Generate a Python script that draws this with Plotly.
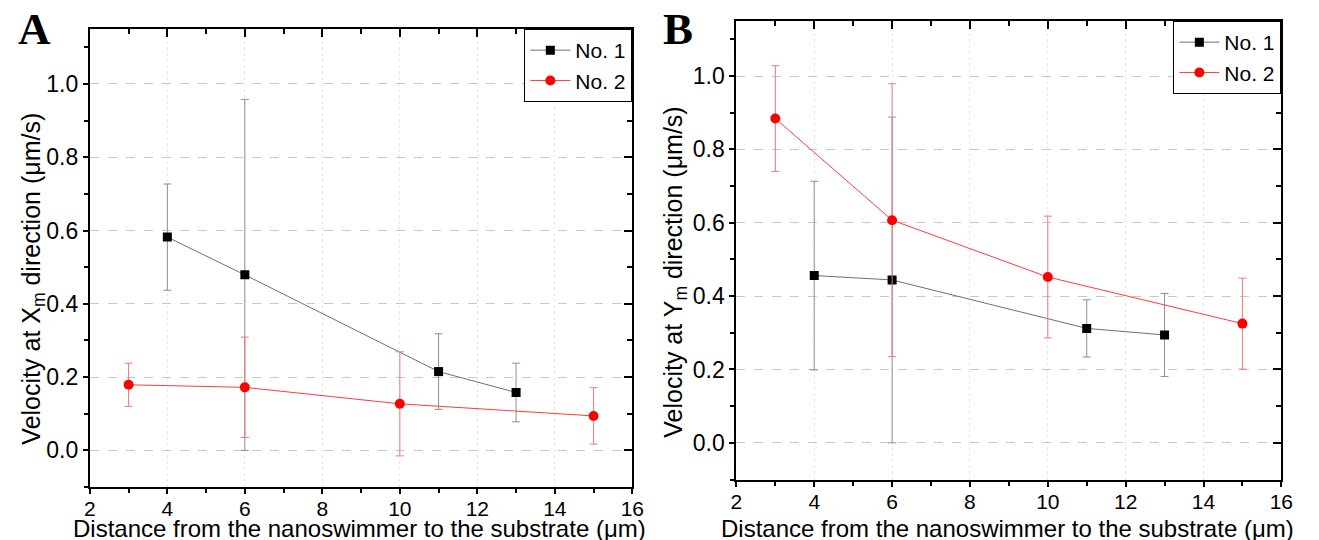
import plotly.graph_objects as go

# ---- data ----
dist_no1 = [4, 6, 11, 13]
dist_no2 = [3, 6, 10, 15]

vx_no1 = [0.582, 0.479, 0.215, 0.158]
vx_no1_err = [0.145, 0.479, 0.103, 0.080]
vx_no2 = [0.179, 0.172, 0.127, 0.094]
vx_no2_err = [0.059, 0.137, 0.142, 0.077]

vy_no1 = [0.456, 0.444, 0.312, 0.294]
vy_no1_err = [0.257, 0.444, 0.078, 0.113]
vy_no2 = [0.884, 0.607, 0.452, 0.325]
vy_no2_err = [0.144, 0.372, 0.166, 0.124]

x_range = [2, 16]
y_range = [-0.1, 1.15]
series_names = ["No. 1", "No. 2"]
panel_labels = ["A", "B"]
x_title = "Distance from the nanoswimmer to the substrate (\u03bcm)"
y_titles = ["Velocity at X<sub>m</sub> direction (\u03bcm/s)",
            "Velocity at Y<sub>m</sub> direction (\u03bcm/s)"]

W, H = 1319, 540
FONT = "Liberation Sans, Arial, sans-serif"

# panel geometry in pixels (left, right, top, bottom)
panels = [(85, 635, 29, 487), (740.5, 1293, 21, 479.5)]

BLACK_LINE = "#707070"
BLACK_ERR = "#8f8f8f"
RED_LINE = "#ff3b3b"
RED_ERR = "#f07878"

fig = go.Figure()

data_sets = [
    (vx_no1, vx_no1_err, vx_no2, vx_no2_err),
    (vy_no1, vy_no1_err, vy_no2, vy_no2_err),
]

for i, (v1, e1, v2, e2) in enumerate(data_sets):
    sfx = "" if i == 0 else "2"
    leg = "legend" if i == 0 else "legend2"
    fig.add_trace(go.Scatter(
        x=dist_no1, y=v1, name=series_names[0], mode="lines+markers",
        xaxis="x" + sfx, yaxis="y" + sfx, legend=leg,
        line=dict(color=BLACK_LINE, width=1),
        marker=dict(symbol="square", size=9, color="black"),
        error_y=dict(type="data", array=e1, visible=True, color=BLACK_ERR,
                     thickness=1, width=4),
    ))
    fig.add_trace(go.Scatter(
        x=dist_no2, y=v2, name=series_names[1], mode="lines+markers",
        xaxis="x" + sfx, yaxis="y" + sfx, legend=leg,
        line=dict(color=RED_LINE, width=1),
        marker=dict(symbol="circle", size=10, color="#ff0000"),
        error_y=dict(type="data", array=e2, visible=True, color=RED_ERR,
                     thickness=1, width=4),
    ))

# dummy traces for the mirrored (inward-tick) top/right axes
for k in (3, 4):
    fig.add_trace(go.Scatter(x=[None], y=[None], xaxis=f"x{k}", yaxis=f"y{k}",
                             showlegend=False, hoverinfo="skip"))

layout = dict(
    width=W, height=H,
    margin=dict(l=0, r=0, t=0, b=0),
    paper_bgcolor="white", plot_bgcolor="white",
    font=dict(family=FONT, color="black"),
    showlegend=True,
)

ytickfont = dict(family=FONT, size=23, color="black")
xtickfont = dict(family=FONT, size=21, color="black")

for i, (l, r, t, b) in enumerate(panels):
    xd = [l / W, r / W]
    yd = [1 - b / H, 1 - t / H]
    sx = "" if i == 0 else "2"
    xname = "xaxis" + sx
    yname = "yaxis" + sx
    layout[xname] = dict(
        domain=xd, anchor="y" + sx, range=x_range, tick0=0, dtick=2,
        ticks="outside", ticklen=5, tickwidth=1.5, tickcolor="black",
        minor=dict(ticks="outside", ticklen=4, dtick=1, tickwidth=1.5,
                   tickcolor="black", showgrid=False),
        showline=True, linewidth=2, linecolor="black", mirror=True,
        showgrid=True, gridcolor="#e6e6e6", griddash="dot", gridwidth=1,
        zeroline=False, tickfont=xtickfont, fixedrange=True,
        ticklabelstandoff=-3,
    )
    layout[yname] = dict(
        domain=yd, anchor="x" + sx, range=y_range, tick0=0, dtick=0.2,
        tickformat=".1f",
        ticks="outside", ticklen=5, tickwidth=1.5, tickcolor="black",
        minor=dict(ticks="outside", ticklen=4, dtick=0.1, tickwidth=1.5,
                   tickcolor="black", showgrid=False),
        showline=True, linewidth=2, linecolor="black", mirror=True,
        showgrid=True, gridcolor="#c8c8c8", griddash="dash", gridwidth=1,
        zeroline=False, tickfont=ytickfont, fixedrange=True,
    )
    k = 3 + i
    layout[f"xaxis{k}"] = dict(
        overlaying="x" + sx, anchor="y" + sx, side="top", range=x_range,
        tick0=0, dtick=2, ticks="inside", ticklen=8, tickwidth=1.5,
        tickcolor="black",
        minor=dict(ticks="inside", ticklen=5, dtick=1, tickwidth=1.5,
                   tickcolor="black", showgrid=False),
        showticklabels=False, showline=False, showgrid=False, zeroline=False,
        fixedrange=True,
    )
    layout[f"yaxis{k}"] = dict(
        overlaying="y" + sx, anchor="x" + sx, side="right", range=y_range,
        tick0=0, dtick=0.2, ticks="inside", ticklen=8, tickwidth=1.5,
        tickcolor="black",
        minor=dict(ticks="inside", ticklen=5, dtick=0.1, tickwidth=1.5,
                   tickcolor="black", showgrid=False),
        showticklabels=False, showline=False, showgrid=False, zeroline=False,
        fixedrange=True,
    )
    legname = "legend" if i == 0 else "legend2"
    layout[legname] = dict(
        x=r / W, y=1 - t / H, xanchor="right", yanchor="top",
        bgcolor="white", bordercolor="black", borderwidth=1,
        font=dict(family=FONT, size=21, color="black"),
        tracegroupgap=0, itemwidth=40,
    )

fig.update_layout(**layout)

annotations = []
# panel letters
letter_pos = [(29, 29.5), (681, 28.5)]
for lab, (px, py) in zip(panel_labels, letter_pos):
    annotations.append(dict(
        text="<b>" + lab + "</b>", x=px / W, y=1 - py / H, xref="paper", yref="paper",
        xanchor="center", yanchor="middle", showarrow=False,
        font=dict(family="Liberation Serif, Times New Roman, serif", size=45, color="black"),
    ))
# axis titles
xt_pos = [(358, 528), (1015, 528)]
yt_pos = [(27, 279), (678, 272)]
for i in range(2):
    px, py = xt_pos[i]
    annotations.append(dict(
        text=x_title, x=px / W, y=1 - py / H, xref="paper", yref="paper",
        xanchor="center", yanchor="middle", showarrow=False,
        font=dict(family=FONT, size=24, color="black"),
    ))
    px, py = yt_pos[i]
    annotations.append(dict(
        text=y_titles[i], x=px / W, y=1 - py / H, xref="paper", yref="paper",
        xanchor="center", yanchor="middle", showarrow=False, textangle=-90,
        font=dict(family=FONT, size=25, color="black"),
    ))

fig.update_layout(annotations=annotations)

fig.write_html("out.html")
